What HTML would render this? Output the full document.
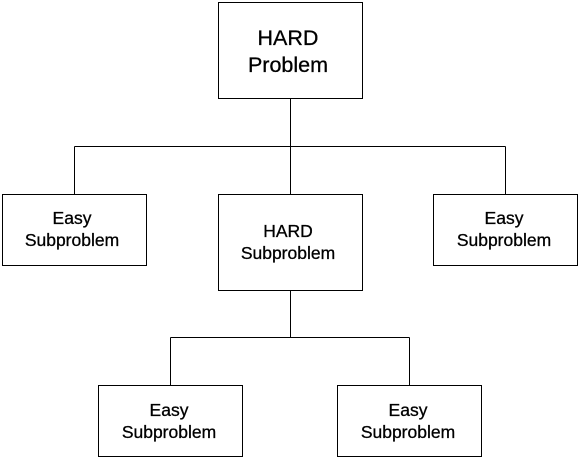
<!DOCTYPE html>
<html><head><style>html,body{margin:0;padding:0;background:#fff}svg{display:block}</style></head>
<body>
<svg width="579" height="459" viewBox="0 0 579 459" xmlns="http://www.w3.org/2000/svg" font-family="Liberation Sans, Arial, sans-serif" fill="#000">
<g fill="none" stroke="#000" stroke-width="1" shape-rendering="crispEdges">
<rect x="218.5" y="2.5" width="144" height="96"/>
<rect x="2.5" y="194.5" width="144" height="71"/>
<rect x="218.5" y="194.5" width="144" height="96"/>
<rect x="433.5" y="194.5" width="144" height="71"/>
<rect x="98.5" y="385.5" width="144" height="71"/>
<rect x="337.5" y="385.5" width="144" height="71"/>
<path d="M290.5 98.5V194.5M74.5 146.5H505.5M74.5 146.5V194.5M505.5 146.5V194.5M290.5 290.5V337.5M170.5 337.5H409.5M170.5 337.5V385.5M409.5 337.5V385.5"/>
</g>
<g text-anchor="middle" stroke="#000" stroke-width="0.3">
<text x="288" y="45" font-size="21.5">HARD</text>
<text x="288" y="72" font-size="21.5">Problem</text>
<text x="72" y="224" font-size="17.5">Easy</text>
<text x="72" y="246" font-size="17.5">Subproblem</text>
<text x="288" y="237" font-size="17.5">HARD</text>
<text x="288" y="259" font-size="17.5">Subproblem</text>
<text x="504" y="224" font-size="17.5">Easy</text>
<text x="504" y="246" font-size="17.5">Subproblem</text>
<text x="169" y="416" font-size="17.5">Easy</text>
<text x="169" y="438" font-size="17.5">Subproblem</text>
<text x="408" y="416" font-size="17.5">Easy</text>
<text x="408" y="438" font-size="17.5">Subproblem</text>
</g>
</svg>
</body></html>
